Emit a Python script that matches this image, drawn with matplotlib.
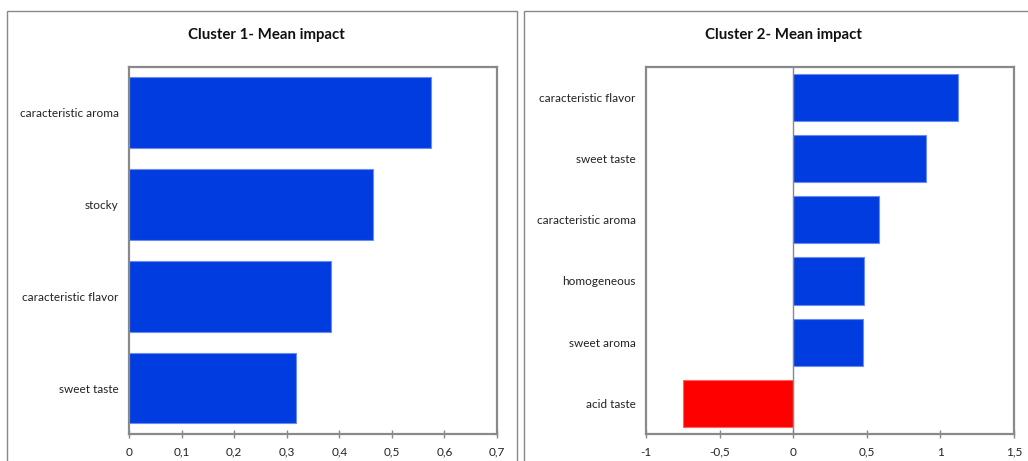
import matplotlib
matplotlib.use("Agg")
import matplotlib.pyplot as plt
from matplotlib.patches import Rectangle
from matplotlib.ticker import FuncFormatter

plt.rcParams['font.family'] = ['Lato', 'DejaVu Sans']

# Cluster 1 attributes (top to bottom) and mean impact
c1_labels = ["caracteristic aroma", "stocky", "caracteristic flavor", "sweet taste"]
c1_values = [0.575, 0.464, 0.385, 0.318]
c1_ticks = [0, 0.1, 0.2, 0.3, 0.4, 0.5, 0.6, 0.7]

# Cluster 2 attributes (top to bottom) and mean impact
c2_labels = ["caracteristic flavor", "sweet taste", "caracteristic aroma",
             "homogeneous", "sweet aroma", "acid taste"]
c2_values = [1.121, 0.899, 0.583, 0.478, 0.472, -0.746]
c2_ticks = [-1, -0.5, 0, 0.5, 1, 1.5]

BLUE = "#003CE0"
RED = "#FF0000"
EDGE_BLUE = "#6A8CF0"
EDGE_RED = "#FF6060"
GRAY = "#898989"

W, H = 1028, 461
fig = plt.figure(figsize=(W / 100, H / 100), dpi=100)

# chart frames
for x0, x1 in [(7, 517), (524, 1040)]:
    fig.patches.append(Rectangle((x0 / W, -0.1), (x1 - x0) / W, 1.1 - 11 / H,
                                 transform=fig.transFigure, fill=False,
                                 edgecolor=GRAY, linewidth=1.0))


def comma(v, pos):
    return ("%g" % v).replace(".", ",")


def draw(ax, labels, values, ticks, title_x, title):
    n = len(labels)
    ypos = list(range(n))[::-1]
    colors = [BLUE if v >= 0 else RED for v in values]
    edges = [EDGE_BLUE if v >= 0 else EDGE_RED for v in values]
    ax.barh(ypos, values, height=0.77, color=colors, edgecolor=edges, linewidth=0.8,
            zorder=2)
    ax.set_ylim(-0.5, n - 0.5)
    ax.set_xlim(ticks[0], ticks[-1])
    ax.set_xticks(ticks)
    ax.xaxis.set_major_formatter(FuncFormatter(comma))
    ax.set_yticks(ypos)
    ax.set_yticklabels(labels)
    ax.tick_params(axis='y', length=0, pad=7.5, labelsize=8.5, colors="#222222")
    ax.tick_params(axis='x', direction='inout', length=6, width=1, color=GRAY,
                   labelsize=8.5, labelcolor="#222222", pad=6)
    for sp in ax.spines.values():
        sp.set_color(GRAY)
        sp.set_linewidth(1.6)
    fig.text(title_x / W, 1 - 35 / H, title, ha='center', va='center',
             fontsize=10.8, fontweight='bold', color="#111111")


ax1 = fig.add_axes([129 / W, 1 - 434 / H, 368 / W, (434 - 66.7) / H])
draw(ax1, c1_labels, c1_values, c1_ticks, 266, "Cluster 1- Mean impact")

ax2 = fig.add_axes([646 / W, 1 - 434 / H, 368 / W, (434 - 66.7) / H])
draw(ax2, c2_labels, c2_values, c2_ticks, 783, "Cluster 2- Mean impact")
ax2.axvline(0, color=GRAY, linewidth=1.0, zorder=3)

fig.savefig("out.png", dpi=100)
